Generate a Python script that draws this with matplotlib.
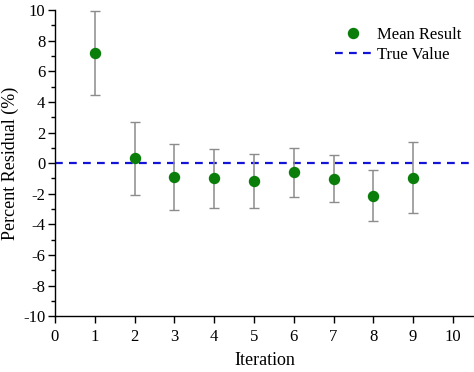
import numpy as np
import matplotlib
matplotlib.use('Agg')
import matplotlib.pyplot as plt
import matplotlib.ticker as tk
from matplotlib import rc
rc('font', family='Liberation Serif')
rc('axes', unicode_minus=False)

#---- data ----
iteration = [1, 2, 3, 4, 5, 6, 7, 8, 9]
mean_res = [7.17, 0.33, -0.88, -1.0, -1.15, -0.6, -1.03, -2.12, -0.97]
err_top = [9.93, 2.70, 1.27, 0.93, 0.58, 1.01, 0.56, -0.46, 1.35]
err_bot = [4.42, -2.09, -3.03, -2.9, -2.9, -2.2, -2.57, -3.75, -3.28]
true_value = 0.0
xticks = list(range(0, 11))
yticks = list(range(-10, 11, 2))

m_green = '#0a7d0a'
m_blue = '#1414d8'
e_grey = '#8c8c8c'

mean_res = np.array(mean_res)
yerr = [mean_res - np.array(err_bot), np.array(err_top) - mean_res]

fig = plt.figure(figsize=(4.74, 3.72), dpi=100)
ax = fig.add_axes([0.116, 0.150, 0.884, 0.823])

ax.axhline(true_value, color=m_blue, lw=1.6, ls=(0, (3.5, 2.8)), zorder=1,
           label='True Value')
ax.errorbar(iteration, mean_res, yerr=yerr, fmt='none', ecolor=e_grey,
            elinewidth=1.1, capsize=3.5, capthick=1.0, zorder=2)
ax.plot(iteration, mean_res, 'o', color=m_green, ms=7.2, zorder=3,
        label='Mean Result')

ax.set_xlim(0, 10.53)
ax.set_ylim(-10, 10)
ax.set_xticks(xticks)
ax.set_yticks(yticks)
ax.yaxis.set_minor_locator(tk.MultipleLocator(1))
ax.tick_params(axis='both', which='major', direction='out', length=5,
               width=1.0, labelsize=12, pad=2)
ax.tick_params(axis='x', which='major', pad=4)
ax.tick_params(axis='y', which='minor', direction='out', length=3, width=1.0)

ax.spines['top'].set_visible(False)
ax.spines['right'].set_visible(False)
for sp in ['left', 'bottom']:
    ax.spines[sp].set_linewidth(1.0)

ax.set_xlabel('Iteration', fontsize=13, labelpad=5)
ax.set_ylabel('Percent Residual (%)', fontsize=13, labelpad=3)

h, l = ax.get_legend_handles_labels()
ax.legend(h[::-1], l[::-1], loc='upper right', bbox_to_anchor=(1.005, 0.995),
          frameon=False, fontsize=12, handlelength=2.2, handletextpad=0.3,
          labelspacing=0.25)

plt.savefig('out.png', dpi=100)
